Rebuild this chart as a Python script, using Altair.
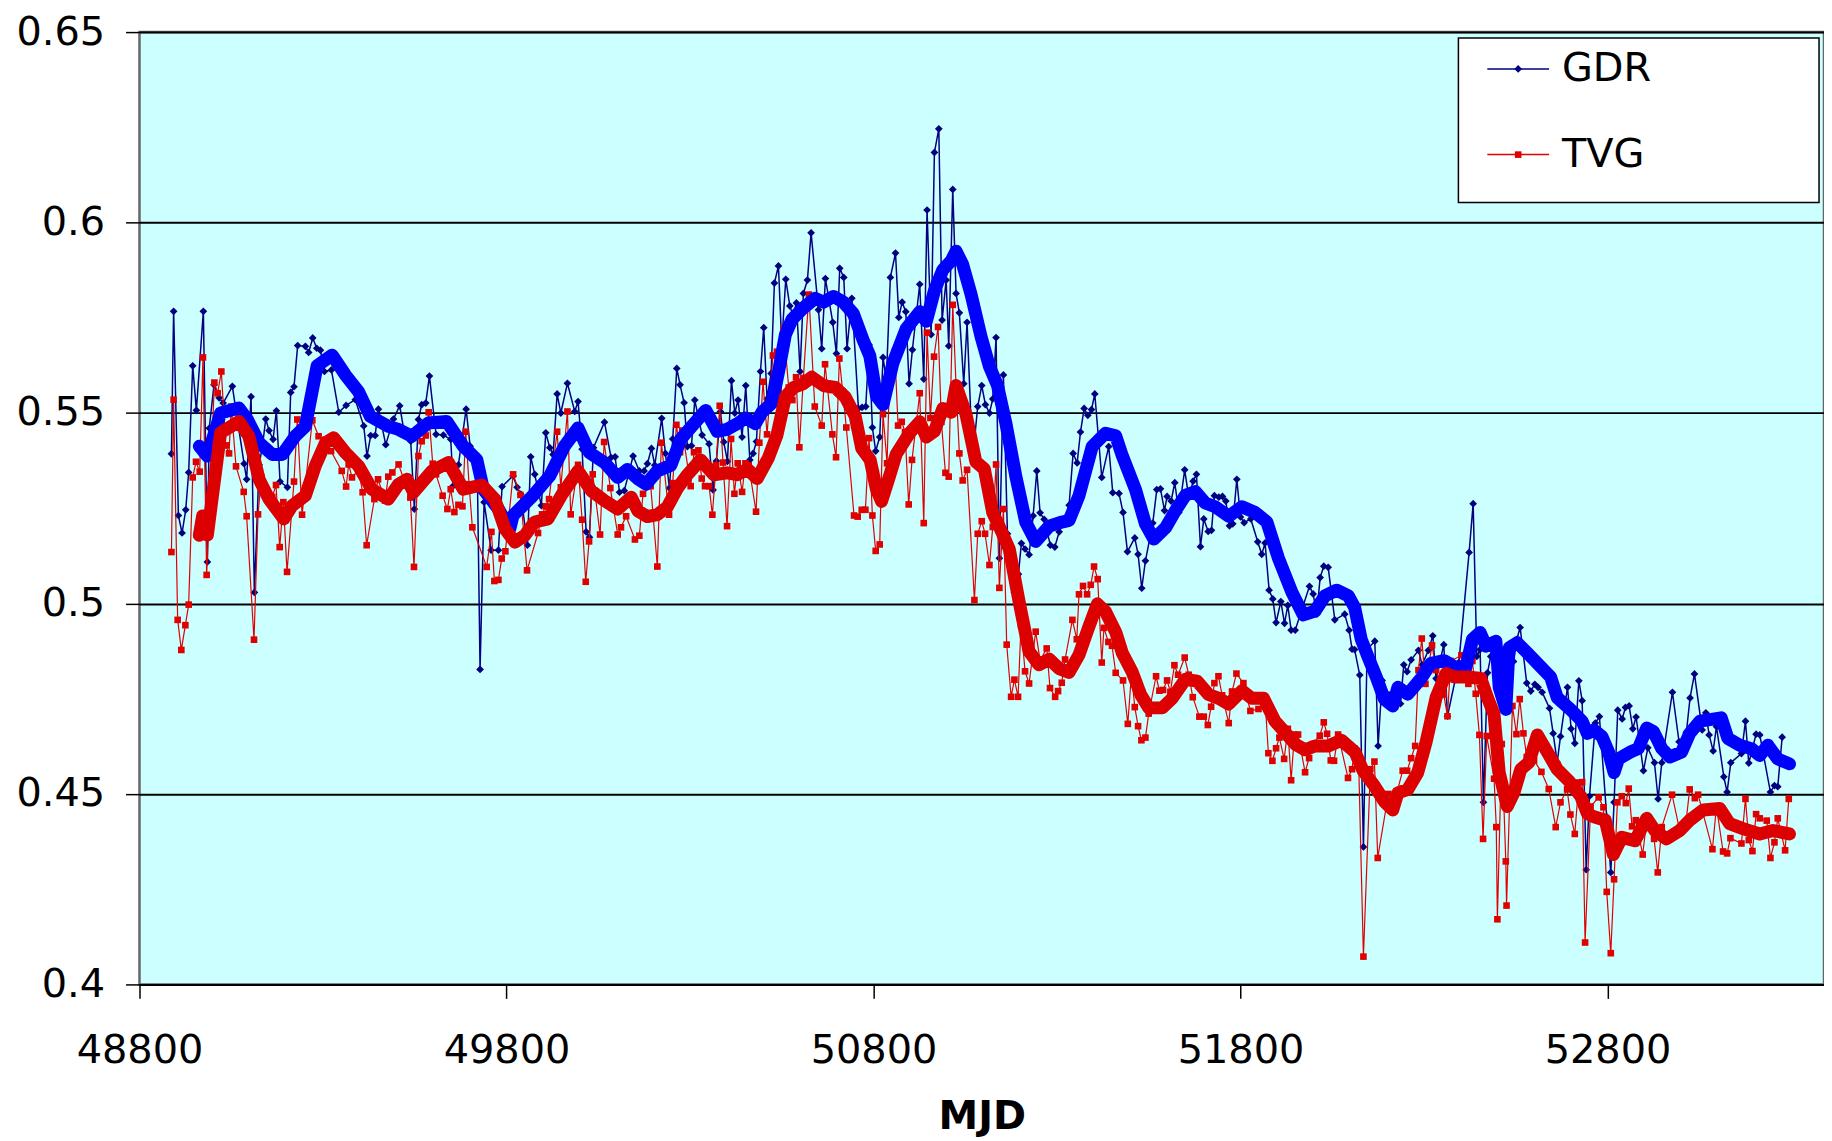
import altair as alt
import pandas as pd

# ---------------- data ----------------
gdr_mjd = [48887, 48893, 48906, 48916, 48926, 48934, 48945, 48955, 48974, 48985, 48990, 49003, 49017, 49028,
           49053, 49085, 49092, 49104, 49113, 49126, 49135, 49144, 49153, 49164, 49173, 49183, 49203, 49212,
           49221, 49231, 49252, 49261, 49272, 49283, 49293, 49304, 49323, 49343, 49363, 49388, 49411, 49420,
           49430, 49442, 49451, 49471, 49492, 49509, 49520, 49539, 49549, 49560, 49569, 49580, 49590, 49608,
           49628, 49648, 49655, 49669, 49690, 49701, 49720, 49728, 49739, 49758, 49778, 49788, 49818, 49829,
           49839, 49857, 49866, 49877, 49895, 49907, 49918, 49927, 49938, 49948, 49966, 49986, 49995, 50006,
           50017, 50026, 50037, 50067, 50085, 50096, 50108, 50121, 50145, 50162, 50175, 50184, 50195, 50204,
           50223, 50233, 50244, 50253, 50264, 50273, 50284, 50293, 50304, 50313, 50333, 50352, 50363, 50372,
           50383, 50392, 50402, 50413, 50422, 50431, 50442, 50452, 50463, 50472, 50481, 50492, 50501, 50510,
           50521, 50530, 50541, 50550, 50561, 50572, 50581, 50590, 50600, 50609, 50620, 50630, 50650, 50659,
           50669, 50689, 50699, 50708, 50719, 50728, 50741, 50759, 50769, 50779, 50788, 50797, 50806, 50817,
           50826, 50835, 50846, 50860, 50869, 50878, 50888, 50897, 50906, 50926, 50937, 50946, 50957, 50966,
           50978, 50987, 50998, 51005, 51016, 51025, 51034, 51046, 51055, 51070, 51084, 51095, 51105, 51116,
           51125, 51134, 51143, 51154, 51165, 51184, 51195, 51203, 51213, 51224, 51235, 51245, 51254, 51265,
           51282, 51294, 51306, 51324, 51333, 51344, 51355, 51364, 51374, 51384, 51394, 51403, 51422, 51441,
           51452, 51469, 51480, 51492, 51512, 51521, 51531, 51541, 51561, 51572, 51582, 51593, 51600, 51611,
           51621, 51632, 51648, 51659, 51671, 51680, 51691, 51700, 51712, 51721, 51729, 51741, 51751, 51760,
           51770, 51779, 51790, 51800, 51810, 51828, 51847, 51858, 51867, 51878, 51888, 51897, 51910, 51920,
           51929, 51938, 51949, 51988, 51998, 52008, 52017, 52027, 52039, 52057, 52084, 52096, 52104, 52111,
           52125, 52135, 52145, 52166, 52175, 52186, 52205, 52220, 52236, 52245, 52254, 52265, 52285, 52295,
           52312, 52324, 52333, 52354, 52364, 52395, 52423, 52434, 52444, 52453, 52462, 52473, 52482, 52544,
           52553, 52562, 52580, 52591, 52602, 52611, 52622, 52642, 52652, 52663, 52672, 52691, 52701, 52711,
           52722, 52731, 52742, 52751, 52767, 52778, 52798, 52809, 52818, 52828, 52840, 52849, 52859, 52869,
           52878, 52898, 52910, 52928, 52938, 52948, 52977, 52995, 53015, 53025, 53037, 53058, 53068, 53077,
           53088, 53097, 53117, 53126, 53136, 53165, 53176, 53185, 53205, 53215, 53244, 53255, 53264, 53276]
gdr_val = [0.5393, 0.5767, 0.5231, 0.5185, 0.5246, 0.5344, 0.5624, 0.5507, 0.5767, 0.5109, 0.546, 0.5574, 0.554, 0.5526,
           0.557, 0.5367, 0.5326, 0.5543, 0.5029, 0.5364, 0.5413, 0.5484, 0.5454, 0.5431, 0.5506, 0.532, 0.5305, 0.5554,
           0.5569, 0.5677, 0.5675, 0.5659, 0.5697, 0.567, 0.5665, 0.5609, 0.5613, 0.5502, 0.552, 0.5535, 0.5466, 0.5387,
           0.5441, 0.5441, 0.551, 0.5417, 0.5484, 0.5519, 0.5457, 0.5426, 0.5248, 0.5483, 0.5522, 0.5526, 0.5597, 0.5444,
           0.5442, 0.5431, 0.5309, 0.5364, 0.551, 0.5413, 0.5387, 0.4827, 0.5266, 0.514, 0.514, 0.5307, 0.5335, 0.5305,
           0.5287, 0.5153, 0.5385, 0.5339, 0.5257, 0.5448, 0.5409, 0.5391, 0.555, 0.55, 0.5578, 0.5504, 0.553, 0.5405,
           0.5188, 0.5174, 0.5409, 0.5476, 0.5383, 0.5385, 0.5292, 0.5296, 0.5387, 0.5348, 0.5348, 0.5367, 0.5407, 0.5363,
           0.5486, 0.5394, 0.5303, 0.5432, 0.5617, 0.5574, 0.5527, 0.5412, 0.5414, 0.5534, 0.5442, 0.5419, 0.5298, 0.5374,
           0.5504, 0.5424, 0.5373, 0.5585, 0.55, 0.5534, 0.5437, 0.5572, 0.5377, 0.5394, 0.5425, 0.5609, 0.5724, 0.5537,
           0.5604, 0.5841, 0.5886, 0.5683, 0.5851, 0.5781, 0.5756, 0.5789, 0.5609, 0.5814, 0.5849, 0.5973, 0.5771, 0.5669,
           0.5853, 0.5738, 0.5656, 0.588, 0.5856, 0.5669, 0.5801, 0.5512, 0.5515, 0.5517, 0.5679, 0.5462, 0.54, 0.5437,
           0.5646, 0.5587, 0.5856, 0.592, 0.5751, 0.5791, 0.5766, 0.5577, 0.5666, 0.5838, 0.5589, 0.6033, 0.5706, 0.6184,
           0.6246, 0.5744, 0.5849, 0.5676, 0.6087, 0.5814, 0.5763, 0.5577, 0.5738, 0.5377, 0.5517, 0.5572, 0.5522, 0.55,
           0.5537, 0.5698, 0.5119, 0.56, 0.5183, 0.5029, 0.5077, 0.5158, 0.5143, 0.5128, 0.523, 0.5348, 0.5238, 0.5221,
           0.5153, 0.5148, 0.5188, 0.5226, 0.5258, 0.5394, 0.5369, 0.545, 0.5512, 0.5494, 0.5509, 0.555, 0.5331, 0.5412,
           0.5291, 0.5289, 0.5239, 0.5136, 0.5172, 0.5129, 0.504, 0.5112, 0.5211, 0.5299, 0.5301, 0.5244, 0.5281, 0.5269,
           0.5317, 0.5239, 0.5351, 0.5279, 0.5321, 0.5339, 0.5149, 0.5222, 0.5189, 0.5192, 0.5283, 0.5279, 0.5281, 0.5269,
           0.5204, 0.5209, 0.5326, 0.5227, 0.5212, 0.5222, 0.5162, 0.5129, 0.5159, 0.5035, 0.5012, 0.495, 0.5005, 0.4948,
           0.4995, 0.493, 0.493, 0.5045, 0.5025, 0.4972, 0.5068, 0.5098, 0.5095, 0.4957, 0.4972, 0.493, 0.488, 0.4879,
           0.4812, 0.4361, 0.488, 0.4901, 0.4626, 0.4798, 0.476, 0.4745, 0.4737, 0.4839, 0.4821, 0.4852, 0.4877, 0.4839,
           0.4877, 0.4915, 0.4803, 0.4892, 0.4704, 0.4845, 0.5134, 0.5262, 0.4861, 0.4879, 0.4478, 0.4818, 0.4861, 0.4848,
           0.4906, 0.4937, 0.4791, 0.477, 0.4788, 0.478, 0.4767, 0.4725, 0.4659, 0.4583, 0.4651, 0.478, 0.4671, 0.4633,
           0.4797, 0.4745, 0.4301, 0.4494, 0.4686, 0.4703, 0.444, 0.4294, 0.4478, 0.472, 0.4697, 0.4727, 0.4731, 0.4671,
           0.4702, 0.4561, 0.4621, 0.4582, 0.4487, 0.4582, 0.4767, 0.4637, 0.4662, 0.4752, 0.4815, 0.4668, 0.4713, 0.4655,
           0.4613, 0.4677, 0.4545, 0.4505, 0.4582, 0.4606, 0.4691, 0.4581, 0.4657, 0.4655, 0.4505, 0.4522, 0.4519, 0.4649]

tvg_mjd = [48887, 48893, 48904, 48914, 48925, 48934, 48945, 48954, 48964, 48973, 48983, 49004, 49013, 49023,
           49035, 49044, 49050, 49063, 49084, 49092, 49112, 49123, 49132, 49162, 49172, 49182, 49192, 49202,
           49221, 49230, 49243, 49271, 49288, 49307, 49322, 49351, 49363, 49370, 49379, 49397, 49408, 49419,
           49440, 49450, 49469, 49478, 49489, 49506, 49538, 49548, 49560, 49569, 49580, 49588, 49599, 49608,
           49626, 49639, 49648, 49658, 49669, 49680, 49689, 49698, 49707, 49746, 49759, 49767, 49778, 49787,
           49797, 49818, 49838, 49856, 49886, 49897, 49907, 49916, 49938, 49948, 49966, 49975, 49995, 50006,
           50016, 50025, 50035, 50055, 50066, 50083, 50103, 50112, 50126, 50150, 50162, 50172, 50193, 50211,
           50222, 50243, 50253, 50263, 50273, 50279, 50302, 50311, 50323, 50332, 50341, 50352, 50361, 50371,
           50381, 50390, 50401, 50412, 50421, 50430, 50442, 50451, 50460, 50480, 50489, 50499, 50510, 50526,
           50537, 50548, 50555, 50569, 50579, 50589, 50598, 50609, 50624, 50640, 50659, 50668, 50688, 50698,
           50707, 50716, 50726, 50747, 50757, 50768, 50778, 50788, 50797, 50806, 50817, 50826, 50837, 50844,
           50858, 50867, 50877, 50886, 50896, 50905, 50926, 50937, 50946, 50955, 50965, 50976, 50985, 50996,
           51005, 51016, 51025, 51034, 51043, 51055, 51075, 51084, 51095, 51104, 51116, 51125, 51134, 51143,
           51154, 51163, 51175, 51184, 51194, 51202, 51213, 51224, 51242, 51254, 51272, 51281, 51295, 51303,
           51313, 51322, 51342, 51354, 51360, 51371, 51382, 51392, 51401, 51411, 51422, 51428, 51440, 51450,
           51460, 51480, 51493, 51503, 51512, 51521, 51530, 51541, 51550, 51570, 51579, 51589, 51600, 51609,
           51620, 51630, 51648, 51659, 51670, 51688, 51700, 51711, 51720, 51729, 51740, 51750, 51768, 51777,
           51789, 51808, 51827, 51849, 51867, 51876, 51887, 51897, 51906, 51919, 51929, 51938, 51947, 51957,
           51976, 51987, 51997, 52016, 52027, 52036, 52046, 52055, 52066, 52093, 52104, 52111, 52122, 52135,
           52154, 52165, 52174, 52203, 52226, 52242, 52254, 52265, 52276, 52285, 52294, 52304, 52322, 52333,
           52354, 52364, 52373, 52402, 52421, 52432, 52441, 52451, 52461, 52471, 52491, 52497, 52500, 52512,
           52523, 52525, 52541, 52552, 52561, 52571, 52580, 52600, 52620, 52640, 52659, 52672, 52690, 52699,
           52711, 52722, 52731, 52739, 52754, 52776, 52789, 52798, 52809, 52818, 52827, 52839, 52850, 52858,
           52867, 52877, 52896, 52907, 52927, 52937, 52948, 52976, 52997, 53014, 53024, 53038, 53047, 53086,
           53097, 53115, 53126, 53135, 53165, 53176, 53185, 53195, 53205, 53215, 53234, 53244, 53255, 53264,
           53284, 53294]
tvg_val = [0.5135, 0.5535, 0.4957, 0.4878, 0.4943, 0.4997, 0.5331, 0.5372, 0.5346, 0.5646, 0.5075, 0.558, 0.5552, 0.5609,
           0.5415, 0.5394, 0.5517, 0.536, 0.5293, 0.5229, 0.4905, 0.5234, 0.5331, 0.528, 0.5311, 0.5148, 0.5266, 0.5083,
           0.532, 0.5483, 0.5233, 0.5481, 0.5439, 0.543, 0.54, 0.5348, 0.5307, 0.5365, 0.5331, 0.535, 0.5292, 0.5153,
           0.5274, 0.5326, 0.527, 0.5333, 0.5344, 0.5365, 0.5278, 0.5096, 0.5387, 0.5426, 0.5441, 0.5502, 0.5367, 0.5339,
           0.5283, 0.5248, 0.53, 0.524, 0.5259, 0.5255, 0.5451, 0.5313, 0.52, 0.5096, 0.5188, 0.5059, 0.5062, 0.5118,
           0.5137, 0.5339, 0.5285, 0.5087, 0.5185, 0.5234, 0.5255, 0.5274, 0.5451, 0.5305, 0.5504, 0.5234, 0.5364, 0.522,
           0.5057, 0.5163, 0.5339, 0.5181, 0.5424, 0.5303, 0.5181, 0.52, 0.5229, 0.5168, 0.5178, 0.5288, 0.5308, 0.5097,
           0.5422, 0.5233, 0.5316, 0.5469, 0.5397, 0.5454, 0.5308, 0.5397, 0.5402, 0.5328, 0.5308, 0.5308, 0.5233, 0.5363,
           0.5519, 0.537, 0.5203, 0.5432, 0.5288, 0.5368, 0.5293, 0.5368, 0.5363, 0.5241, 0.5422, 0.5582, 0.5444, 0.5651,
           0.5661, 0.5537, 0.5721, 0.5567, 0.5534, 0.5594, 0.541, 0.5592, 0.5811, 0.5517, 0.5467, 0.5628, 0.5444, 0.5384,
           0.5643, 0.5557, 0.5462, 0.5231, 0.5228, 0.5246, 0.5246, 0.5434, 0.5231, 0.5138, 0.5155, 0.5497, 0.5368, 0.5599,
           0.5661, 0.5467, 0.5477, 0.545, 0.526, 0.5377, 0.5552, 0.5211, 0.5711, 0.5487, 0.5648, 0.5726, 0.5477, 0.5343,
           0.5333, 0.5784, 0.5572, 0.5394, 0.5323, 0.5351, 0.5009, 0.5183, 0.5216, 0.5183, 0.5101, 0.5201, 0.5365, 0.5041,
           0.5248, 0.4892, 0.4755, 0.48, 0.4755, 0.4944, 0.4822, 0.479, 0.4926, 0.485, 0.4882, 0.4778, 0.4755, 0.477,
           0.4792, 0.4853, 0.4957, 0.4906, 0.5024, 0.5046, 0.5024, 0.5049, 0.5097, 0.5064, 0.4845, 0.4936, 0.4899, 0.4889,
           0.4818, 0.4798, 0.4684, 0.4816, 0.4728, 0.4678, 0.4641, 0.4648, 0.4711, 0.4809, 0.4771, 0.4773, 0.4798, 0.4768,
           0.4838, 0.4813, 0.4858, 0.4813, 0.4754, 0.4703, 0.4703, 0.4681, 0.4729, 0.4791, 0.4809, 0.4759, 0.4686, 0.4769,
           0.4816, 0.4791, 0.4718, 0.4723, 0.4746, 0.4607, 0.4587, 0.462, 0.4648, 0.4592, 0.4671, 0.4536, 0.4656, 0.4656,
           0.4557, 0.4594, 0.4631, 0.4653, 0.4688, 0.4658, 0.4588, 0.4587, 0.4656, 0.4542, 0.4565, 0.4619, 0.4583, 0.4073,
           0.4565, 0.4585, 0.4332, 0.45, 0.4503, 0.4561, 0.4561, 0.4594, 0.4626, 0.4825, 0.4908, 0.4789, 0.489, 0.4825,
           0.4761, 0.4704, 0.4849, 0.4864, 0.4789, 0.4849, 0.4763, 0.4655, 0.4382, 0.4652, 0.454, 0.4413, 0.4171, 0.4631,
           0.4323, 0.4207, 0.4731, 0.4657, 0.4749, 0.4659, 0.4597, 0.4588, 0.4558, 0.4513, 0.4413, 0.4478, 0.4512, 0.4446,
           0.4395, 0.453, 0.4531, 0.411, 0.4467, 0.4491, 0.4465, 0.4243, 0.4082, 0.4276, 0.4478, 0.4494, 0.4476, 0.4514,
           0.4415, 0.4431, 0.4341, 0.4431, 0.4382, 0.4294, 0.4413, 0.4498, 0.4404, 0.4427, 0.4512, 0.4489, 0.4498, 0.4355,
           0.4467, 0.4349, 0.4344, 0.4384, 0.437, 0.4487, 0.4379, 0.435, 0.4447, 0.4436, 0.443, 0.4332, 0.4373, 0.4436,
           0.4352, 0.4487]

# smoothed (running mean) curves, drawn as thick lines
gdr_smooth_mjd = [48963, 48985, 49021, 49071, 49094, 49126, 49162, 49189, 49225, 49252, 49284, 49325, 49361, 49397,
                  49429, 49478, 49506, 49542, 49587, 49637, 49682, 49719, 49737, 49778, 49809, 49818, 49868, 49918,
                  49958, 49995, 50026, 50067, 50103, 50130, 50157, 50180, 50211, 50248, 50275, 50311, 50343, 50374,
                  50401, 50429, 50451, 50478, 50496, 50524, 50542, 50560, 50578, 50609, 50641, 50664, 50691, 50718,
                  50745, 50772, 50790, 50808, 50826, 50853, 50889, 50926, 50944, 50966, 50989, 51012, 51025, 51043,
                  51066, 51093, 51116, 51138, 51161, 51188, 51215, 51242, 51279, 51310, 51333, 51360, 51396, 51432,
                  51460, 51478, 51514, 51541, 51564, 51596, 51623, 51650, 51677, 51704, 51731, 51768, 51804, 51840,
                  51872, 51903, 51940, 51971, 52003, 52030, 52062, 52094, 52111, 52129, 52147, 52170, 52192, 52215,
                  52229, 52256, 52292, 52319, 52355, 52383, 52414, 52432, 52453, 52469, 52496, 52505, 52523, 52532,
                  52554, 52582, 52618, 52645, 52663, 52699, 52731, 52745, 52763, 52785, 52803, 52818, 52830, 52862,
                  52884, 52907, 52925, 52948, 52970, 53002, 53024, 53052, 53079, 53110, 53128, 53160, 53192, 53215,
                  53237, 53264, 53296]
gdr_smooth_val = [0.5413, 0.5387, 0.55, 0.5513, 0.5483, 0.5422, 0.5391, 0.5391, 0.544, 0.5465, 0.5624, 0.5652, 0.56, 0.5556,
                  0.5491, 0.5465, 0.5457, 0.5439, 0.5474, 0.5478, 0.5413, 0.5378, 0.53, 0.5248, 0.5196, 0.5231, 0.5279, 0.5335,
                  0.5413, 0.5461, 0.5396, 0.537, 0.5331, 0.5352, 0.5328, 0.5313, 0.5348, 0.5363, 0.5432, 0.5472, 0.5507, 0.5452,
                  0.5457, 0.5472, 0.5487, 0.5472, 0.5502, 0.5527, 0.5612, 0.5706, 0.5746, 0.5776, 0.5801, 0.5791, 0.5806, 0.5791,
                  0.5761, 0.5691, 0.565, 0.5545, 0.5522, 0.5631, 0.5721, 0.5766, 0.5741, 0.5821, 0.5876, 0.59, 0.5925, 0.589,
                  0.5811, 0.5701, 0.5622, 0.5572, 0.5472, 0.5333, 0.5213, 0.5163, 0.5203, 0.5213, 0.5218, 0.5283, 0.5412, 0.5447,
                  0.544, 0.5388, 0.5299, 0.5209, 0.5169, 0.5199, 0.5244, 0.5284, 0.5294, 0.5264, 0.5254, 0.5229, 0.5254, 0.5239,
                  0.5214, 0.512, 0.503, 0.497, 0.498, 0.502, 0.5035, 0.502, 0.499, 0.4906, 0.4861, 0.4807, 0.4749, 0.4731,
                  0.478, 0.4762, 0.4803, 0.4843, 0.485, 0.4834, 0.4832, 0.4906, 0.4924, 0.4888, 0.4901, 0.478, 0.4722, 0.4884,
                  0.4897, 0.487, 0.4834, 0.4807, 0.4753, 0.4722, 0.4691, 0.4659, 0.4668, 0.4651, 0.461, 0.4556, 0.4592, 0.461,
                  0.4619, 0.4673, 0.4664, 0.4619, 0.4597, 0.461, 0.4659, 0.4691, 0.4695, 0.47, 0.4646, 0.4628, 0.4619, 0.4601,
                  0.4628, 0.4592, 0.4579]

tvg_smooth_mjd = [48963, 48972, 48985, 49021, 49071, 49098, 49126, 49153, 49193, 49216, 49252, 49279, 49307, 49329,
                  49361, 49397, 49433, 49478, 49506, 49529, 49547, 49597, 49642, 49682, 49732, 49768, 49796, 49823,
                  49850, 49877, 49913, 49949, 49995, 50031, 50067, 50103, 50140, 50158, 50184, 50211, 50238, 50266,
                  50293, 50329, 50365, 50401, 50429, 50456, 50483, 50514, 50537, 50560, 50582, 50609, 50632, 50664,
                  50696, 50723, 50750, 50768, 50791, 50808, 50822, 50840, 50862, 50898, 50926, 50944, 50966, 50989,
                  51012, 51025, 51052, 51079, 51102, 51125, 51147, 51170, 51197, 51224, 51251, 51279, 51306, 51333,
                  51360, 51387, 51410, 51432, 51460, 51478, 51505, 51528, 51550, 51587, 51614, 51650, 51682, 51713,
                  51741, 51768, 51804, 51831, 51863, 51894, 51922, 51949, 51976, 52003, 52039, 52075, 52112, 52134,
                  52165, 52192, 52215, 52229, 52256, 52283, 52306, 52333, 52360, 52383, 52419, 52455, 52473, 52491,
                  52505, 52527, 52545, 52564, 52586, 52609, 52636, 52663, 52695, 52727, 52745, 52763, 52794, 52816,
                  52839, 52875, 52907, 52929, 52961, 52997, 53024, 53061, 53106, 53133, 53169, 53215, 53251, 53296]
tvg_smooth_val = [0.5179, 0.523, 0.518, 0.5448, 0.5478, 0.5439, 0.5326, 0.5274, 0.5222, 0.5257, 0.5283, 0.5361, 0.5422, 0.5435,
                  0.5396, 0.5361, 0.53, 0.5274, 0.5313, 0.5326, 0.5292, 0.5348, 0.537, 0.53, 0.5311, 0.5274, 0.5196, 0.5161,
                  0.5179, 0.5214, 0.5222, 0.5283, 0.5348, 0.5296, 0.527, 0.5248, 0.5279, 0.5243, 0.5228, 0.5233, 0.5253, 0.5303,
                  0.5338, 0.5377, 0.5338, 0.5343, 0.5338, 0.5353, 0.5328, 0.5383, 0.5442, 0.5542, 0.5567, 0.5577, 0.5594, 0.5572,
                  0.5567, 0.5542, 0.5492, 0.5407, 0.5377, 0.53, 0.5268, 0.5323, 0.5392, 0.5447, 0.5477, 0.5437, 0.5452, 0.5512,
                  0.5502, 0.5572, 0.5497, 0.5372, 0.5353, 0.5238, 0.5193, 0.5143, 0.5004, 0.4874, 0.4839, 0.4854, 0.4829, 0.4819,
                  0.4865, 0.4939, 0.4999, 0.4979, 0.4925, 0.487, 0.482, 0.4761, 0.4726, 0.4726, 0.4751, 0.4801, 0.4796, 0.4761,
                  0.4751, 0.4736, 0.4771, 0.4751, 0.4751, 0.4691, 0.4661, 0.4631, 0.4616, 0.4626, 0.4626, 0.4641, 0.461, 0.4561,
                  0.4521, 0.448, 0.4458, 0.4503, 0.4512, 0.4556, 0.4637, 0.4753, 0.4816, 0.4807, 0.4807, 0.4803, 0.4753, 0.4709,
                  0.4556, 0.4467, 0.4503, 0.4565, 0.4583, 0.4655, 0.461, 0.4565, 0.4534, 0.4494, 0.4449, 0.444, 0.4431, 0.4341,
                  0.4386, 0.4377, 0.4436, 0.4404, 0.4382, 0.4404, 0.4431, 0.4458, 0.4462, 0.4422, 0.4409, 0.4395, 0.4404, 0.4395]

x_ticks = [48800, 49800, 50800, 51800, 52800]
y_ticks = [0.4, 0.45, 0.5, 0.55, 0.6, 0.65]
series_names = ["GDR", "TVG"]

# ---------------- styling ----------------
NAVY = "#000080"
RED = "#E00000"
BLUE = "#0000FF"
RED_THICK = "#DD0000"
FONT = "DejaVu Sans"
W, H = 1691, 956

gdr_df = pd.DataFrame({"mjd": gdr_mjd, "val": gdr_val})
tvg_df = pd.DataFrame({"mjd": tvg_mjd, "val": tvg_val})
gdr_s_df = pd.DataFrame({"mjd": gdr_smooth_mjd, "val": gdr_smooth_val})
tvg_s_df = pd.DataFrame({"mjd": tvg_smooth_mjd, "val": tvg_smooth_val})

x_enc = alt.X("mjd:Q",
              scale=alt.Scale(domain=[48800, 53390], nice=False, zero=False),
              axis=alt.Axis(values=x_ticks, format="d", title="MJD", grid=False,
                            labelFont=FONT, labelFontSize=40, labelColor="black", labelPadding=32,
                            labelFlush=False, labelOverlap=False,
                            tickSize=14, tickColor="black", tickWidth=1.5,
                            domainColor="black", domainWidth=2,
                            titleFont=FONT, titleFontSize=40, titleFontWeight="bold",
                            titleColor="black", titlePadding=27))
y_enc = alt.Y("val:Q",
              scale=alt.Scale(domain=[0.4, 0.65], nice=False, zero=False),
              axis=alt.Axis(values=y_ticks, format="~g", title=None, grid=True,
                            gridColor="black", gridWidth=2, gridOpacity=1,
                            labelFont=FONT, labelFontSize=40, labelColor="black", labelPadding=21,
                            labelFlush=False, labelOverlap=False,
                            tickSize=14, tickColor="black", tickWidth=1.5, domain=False))

gdr_line = alt.Chart(gdr_df).mark_line(
    color=NAVY, strokeWidth=1.5,
    point=alt.OverlayMarkDef(shape="diamond", filled=True, size=60, color=NAVY)
).encode(x=x_enc, y=y_enc)

tvg_line = alt.Chart(tvg_df).mark_line(
    color=RED, strokeWidth=1.2,
    point=alt.OverlayMarkDef(shape="square", filled=True, size=44, color=RED)
).encode(x=x_enc, y=y_enc)

gdr_thick = alt.Chart(gdr_s_df).mark_line(
    color=BLUE, strokeWidth=13, strokeCap="round", strokeJoin="round"
).encode(x=x_enc, y=y_enc)

tvg_thick = alt.Chart(tvg_s_df).mark_line(
    color=RED_THICK, strokeWidth=13, strokeCap="round", strokeJoin="round"
).encode(x=x_enc, y=y_enc)

# ---------------- legend box (top right, inside the plot) ----------------
LX = 5
legend_layers = [
    alt.Chart(alt.Data(values=[{"box": 1}])).mark_rect(
        fill="white", stroke="black", strokeWidth=1.5
    ).encode(x=alt.value(1319 + LX), x2=alt.value(1681 + LX), y=alt.value(6), y2=alt.value(171))
]
legend_style = {"GDR": (NAVY, "diamond", 60, 37), "TVG": (RED, "square", 44, 123)}
for name in series_names:
    col, shp, sz, ly = legend_style[name]
    d = alt.Data(values=[{"name": name}])
    legend_layers.append(alt.Chart(d).mark_rule(color=col, strokeWidth=1.5).encode(
        x=alt.value(1348 + LX), x2=alt.value(1410 + LX), y=alt.value(ly)))
    legend_layers.append(alt.Chart(d).mark_point(shape=shp, filled=True, size=sz, color=col, opacity=1).encode(
        x=alt.value(1379 + LX), y=alt.value(ly)))
    legend_layers.append(alt.Chart(d).mark_text(
        align="left", baseline="middle", font=FONT, fontSize=40, color="black"
    ).encode(x=alt.value(1423 + LX), y=alt.value(ly), text="name:N"))

chart = alt.layer(gdr_line, tvg_line, gdr_thick, tvg_thick, *legend_layers).properties(
    width=W, height=H,
    autosize=alt.AutoSizeParams(type="none"),
    padding={"left": 132, "top": 22, "right": 0, "bottom": 155},
    background="white",
).configure_view(
    fill="#CCFFFF", stroke="#666666", strokeWidth=2.5
)

chart.save("out.html", embed_options={"renderer": "svg", "actions": False})
